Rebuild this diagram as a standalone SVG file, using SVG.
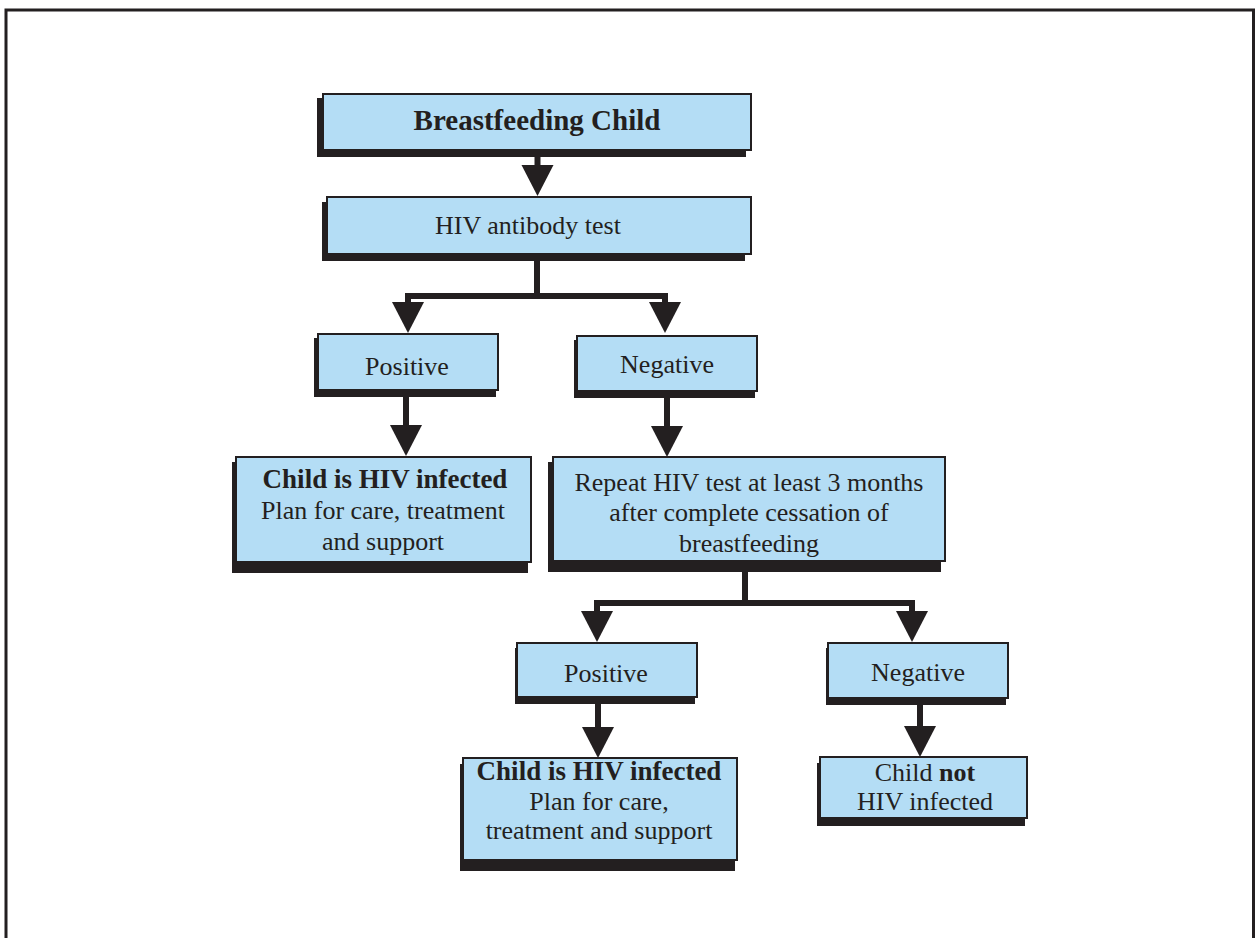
<svg xmlns="http://www.w3.org/2000/svg" width="1260" height="938" viewBox="0 0 1260 938">
  <style>
    .box { fill: #b4ddf5; stroke: #231f20; stroke-width: 2; }
    .shadow { fill: #231f20; }
    .txt { font-family: "Liberation Serif", "Times New Roman", serif; font-size: 26px; fill: #231f20; text-anchor: middle; }
    .b { font-weight: bold; }
    .wire { fill: none; stroke: #231f20; stroke-width: 6; stroke-linejoin: miter; }
    .frame { fill: none; stroke: #231f20; stroke-width: 3; }
  </style>
  <defs>
    <!-- downward arrowhead, tip at origin -->
    <path id="head" d="M-16,-31 L16,-31 L0,0 Z" fill="#231f20"/>
  </defs>

  <rect width="1260" height="938" fill="#ffffff"/>
  <!-- page frame, open at the bottom -->
  <path class="frame" d="M6,945 L6,10 L1253.5,10 L1253.5,945"/>

  <g id="connectors">
    <line class="wire" x1="537.5" y1="150" x2="537.5" y2="167"/>
    <use href="#head" x="537.5" y="196"/>

    <path class="wire" d="M537,254 L537,296 M408,304 L408,296 L665,296 L665,304"/>
    <use href="#head" x="408" y="333"/>
    <use href="#head" x="665" y="333"/>

    <line class="wire" x1="406" y1="390" x2="406" y2="426"/>
    <use href="#head" x="406" y="456"/>

    <line class="wire" x1="667" y1="391" x2="667" y2="427"/>
    <use href="#head" x="667" y="457"/>

    <path class="wire" d="M745,561 L745,603 M597,611 L597,603 L912,603 L912,611"/>
    <use href="#head" x="597" y="642"/>
    <use href="#head" x="912" y="642"/>

    <line class="wire" x1="598" y1="697" x2="598" y2="728"/>
    <use href="#head" x="598" y="758"/>

    <line class="wire" x1="920" y1="698" x2="920" y2="726"/>
    <use href="#head" x="920" y="757"/>
  </g>

  <g id="node-breastfeeding">
    <rect class="shadow" x="317" y="98" width="429" height="59"/>
    <rect class="box" x="323" y="94" width="428" height="56"/>
    <text class="txt b" x="537" y="130" style="font-size:29px">Breastfeeding Child</text>
  </g>

  <g id="node-antibody-test">
    <rect class="shadow" x="322" y="202" width="423" height="59"/>
    <rect class="box" x="327" y="197" width="424" height="57"/>
    <text class="txt" x="528" y="234">HIV antibody test</text>
  </g>

  <g id="node-positive-1">
    <rect class="shadow" x="314" y="338" width="182" height="59"/>
    <rect class="box" x="318" y="334" width="180" height="56"/>
    <text class="txt" x="407" y="375">Positive</text>
  </g>

  <g id="node-negative-1">
    <rect class="shadow" x="574" y="340" width="181" height="58"/>
    <rect class="box" x="577" y="336" width="180" height="55"/>
    <text class="txt" x="667" y="373">Negative</text>
  </g>

  <g id="node-infected-1">
    <rect class="shadow" x="232" y="462" width="296" height="111"/>
    <rect class="box" x="236" y="457" width="295" height="105"/>
    <text class="txt b" x="385" y="488" style="font-size:27px">Child is HIV infected</text>
    <text class="txt" x="383" y="519">Plan for care, treatment</text>
    <text class="txt" x="383" y="550">and support</text>
  </g>

  <g id="node-repeat-test">
    <rect class="shadow" x="548" y="462" width="393" height="110"/>
    <rect class="box" x="553" y="457" width="392" height="104"/>
    <text class="txt" x="749" y="491">Repeat HIV test at least 3 months</text>
    <text class="txt" x="749" y="521">after complete cessation of</text>
    <text class="txt" x="749" y="552">breastfeeding</text>
  </g>

  <g id="node-positive-2">
    <rect class="shadow" x="515" y="648" width="180" height="56"/>
    <rect class="box" x="517" y="643" width="180" height="54"/>
    <text class="txt" x="606" y="682">Positive</text>
  </g>

  <g id="node-negative-2">
    <rect class="shadow" x="826" y="648" width="180" height="57"/>
    <rect class="box" x="828" y="643" width="180" height="55"/>
    <text class="txt" x="918" y="681">Negative</text>
  </g>

  <g id="node-infected-2">
    <rect class="shadow" x="460" y="764" width="275" height="107"/>
    <rect class="box" x="463" y="758" width="274" height="102"/>
    <text class="txt b" x="599" y="780" style="font-size:27px">Child is HIV infected</text>
    <text class="txt" x="599" y="810">Plan for care,</text>
    <text class="txt" x="599" y="839">treatment and support</text>
  </g>

  <g id="node-not-infected">
    <rect class="shadow" x="817" y="763" width="208" height="63"/>
    <rect class="box" x="820" y="757" width="207" height="61"/>
    <text class="txt" x="925" y="781">Child <tspan class="b">not</tspan></text>
    <text class="txt" x="925" y="810">HIV infected</text>
  </g>
</svg>
